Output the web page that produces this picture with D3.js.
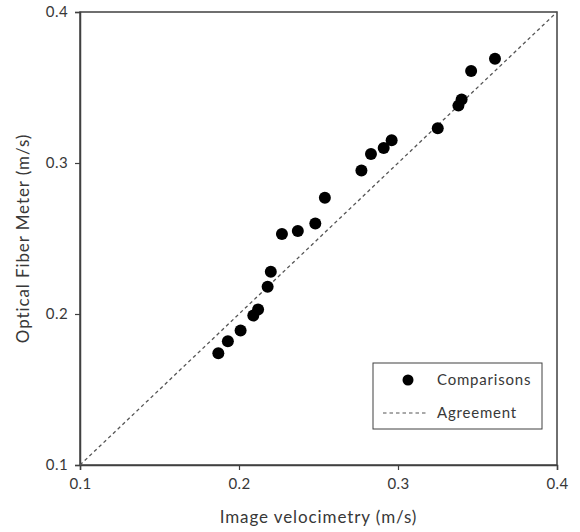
<!DOCTYPE html>
<html>
<head>
<meta charset="utf-8">
<script src="https://cdn.jsdelivr.net/npm/d3@7"></script>
<style>
  body { margin: 0; background: #fff; }
  text { font-family: Lato, "Open Sans", sans-serif; fill: #383838; }
</style>
</head>
<body>
<script>
// Measured velocities (m/s)
const imageVel = [0.187, 0.193, 0.201, 0.209, 0.212, 0.218, 0.220, 0.227, 0.237, 0.248,
                  0.254, 0.277, 0.283, 0.291, 0.296, 0.325, 0.338, 0.340, 0.346, 0.361];
const fiberVel = [0.174, 0.182, 0.189, 0.199, 0.203, 0.218, 0.228, 0.253, 0.255, 0.260,
                  0.277, 0.295, 0.306, 0.310, 0.315, 0.323, 0.338, 0.342, 0.361, 0.369];
const agreement = [0.1, 0.4];
const ticks = [0.1, 0.2, 0.3, 0.4];

const width = 580, height = 532;
const margin = { left: 80, right: 23, top: 12, bottom: 67 };

const svg = d3.select('body').append('svg')
    .attr('width', width)
    .attr('height', height);

const x = d3.scaleLinear().domain([0.1, 0.4]).range([margin.left, width - margin.right]);
const y = d3.scaleLinear().domain([0.1, 0.4]).range([height - margin.bottom, margin.top]);

// Plot frame
svg.append('rect')
    .attr('x', x(0.1)).attr('y', y(0.4))
    .attr('width', x(0.4) - x(0.1)).attr('height', y(0.1) - y(0.4))
    .attr('fill', 'none').attr('stroke', '#404040').attr('stroke-width', 1.5);

// Axes
const xAxis = svg.append('g')
    .attr('transform', `translate(0,${y(0.1)})`)
    .call(d3.axisBottom(x).tickValues(ticks).tickFormat(d3.format('.1f')).tickSize(5).tickPadding(8));
const yAxis = svg.append('g')
    .attr('transform', `translate(${x(0.1)},0)`)
    .call(d3.axisLeft(y).tickValues(ticks).tickFormat(d3.format('.1f')).tickSize(5).tickPadding(7));

[xAxis, yAxis].forEach(g => {
    g.select('.domain').attr('stroke', '#404040').attr('stroke-width', 1.5);
    g.selectAll('.tick line').attr('stroke', '#404040').attr('stroke-width', 1.2);
    g.selectAll('.tick text')
        .style('font-size', '15px')
        .style('letter-spacing', '0.4px')
        .attr('fill', '#383838');
});

// 1:1 agreement line
svg.append('line')
    .attr('x1', x(agreement[0])).attr('y1', y(agreement[0]))
    .attr('x2', x(agreement[1])).attr('y2', y(agreement[1]))
    .attr('stroke', '#555').attr('stroke-width', 1.3)
    .attr('stroke-dasharray', '3.5,3');

// Data points
svg.append('g').selectAll('circle')
    .data(imageVel)
    .join('circle')
    .attr('cx', d => x(d))
    .attr('cy', (d, i) => y(fiberVel[i]))
    .attr('r', 6)
    .attr('fill', '#000');

// Axis titles
svg.append('text')
    .attr('x', (x(0.1) + x(0.4)) / 2)
    .attr('y', 523)
    .attr('text-anchor', 'middle')
    .style('font-size', '17px')
    .style('letter-spacing', '0.9px')
    .text('Image velocimetry (m/s)');

svg.append('text')
    .attr('transform', `translate(29,${(y(0.1) + y(0.4)) / 2}) rotate(-90)`)
    .attr('text-anchor', 'middle')
    .style('font-size', '17px')
    .style('letter-spacing', '0.9px')
    .text('Optical Fiber Meter (m/s)');

// Legend
const legend = svg.append('g');
legend.append('rect')
    .attr('x', 373).attr('y', 363)
    .attr('width', 169).attr('height', 66)
    .attr('fill', '#fff').attr('stroke', '#404040').attr('stroke-width', 1);
legend.append('circle')
    .attr('cx', 408).attr('cy', 380).attr('r', 5.5).attr('fill', '#000');
legend.append('text')
    .attr('x', 437).attr('y', 385)
    .style('font-size', '15px')
    .style('letter-spacing', '0.8px')
    .text('Comparisons');
legend.append('line')
    .attr('x1', 383).attr('x2', 428).attr('y1', 413).attr('y2', 413)
    .attr('stroke', '#555').attr('stroke-width', 1.2)
    .attr('stroke-dasharray', '3.5,3');
legend.append('text')
    .attr('x', 437).attr('y', 418)
    .style('font-size', '15px')
    .style('letter-spacing', '0.8px')
    .text('Agreement');
</script>
</body>
</html>
